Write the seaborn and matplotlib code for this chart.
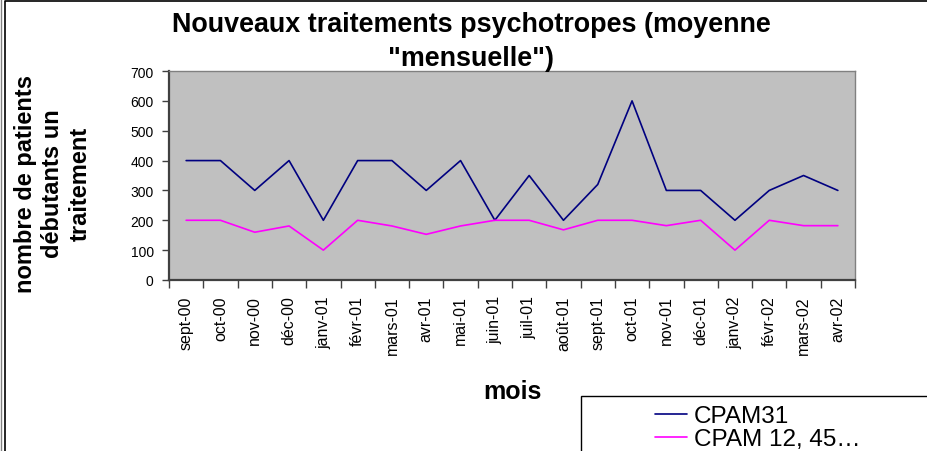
import matplotlib
matplotlib.use("Agg")
import matplotlib.pyplot as plt
from matplotlib.lines import Line2D
from matplotlib.patches import Rectangle
import pandas as pd
import seaborn as sns

MONTHS = [
    "sept-00", "oct-00", "nov-00", "déc-00", "janv-01", "févr-01", "mars-01",
    "avr-01", "mai-01", "juin-01", "juil-01", "août-01", "sept-01", "oct-01",
    "nov-01", "déc-01", "janv-02", "févr-02", "mars-02", "avr-02",
]
CPAM31 = [400, 400, 300, 400, 200, 400, 400, 300, 400, 200,
          350, 200, 320, 600, 300, 300, 200, 300, 350, 300]
CPAM_AUTRES = [200, 200, 160, 181, 100, 200, 181, 153, 181, 200,
               200, 168, 200, 200, 182, 200, 100, 200, 182, 182]
SERIES = ["CPAM31", "CPAM 12, 45…"]
COLORS = {"CPAM31": "#000080", "CPAM 12, 45…": "#FF00FF"}
YTICKS = [0, 100, 200, 300, 400, 500, 600, 700]

W, H = 927, 452


def fx(px):
    return px / W


def fy(py):
    return 1 - py / H


df = pd.concat([
    pd.DataFrame({"pos": range(len(MONTHS)), "valeur": CPAM31, "serie": SERIES[0]}),
    pd.DataFrame({"pos": range(len(MONTHS)), "valeur": CPAM_AUTRES, "serie": SERIES[1]}),
])

sns.set_style("white")
plt.rcParams["font.family"] = ["Liberation Sans", "DejaVu Sans"]
plt.rcParams["text.color"] = "black"
plt.rcParams["axes.labelcolor"] = "black"
plt.rcParams["xtick.labelcolor"] = "black"
plt.rcParams["ytick.labelcolor"] = "black"

fig = plt.figure(figsize=(W / 100, H / 100), dpi=100)
ax = fig.add_axes([fx(169), fy(281), fx(855) - fx(169), fy(72) - fy(281)])
ax.set_facecolor("#C0C0C0")

sns.lineplot(data=df, x="pos", y="valeur", hue="serie", palette=COLORS,
             linewidth=1.2, ax=ax, legend=True)

ax.set_xlim(-0.5, len(MONTHS) - 0.5)
ax.set_ylim(0, 700)
ax.set_yticks(YTICKS)
ax.set_yticklabels([str(v) for v in YTICKS], fontsize=10)
ax.set_xticks(range(len(MONTHS)))
ax.set_xticklabels(MONTHS, rotation=90, fontsize=11.5, va="top", ha="center")
ax.set_xticks([i - 0.5 for i in range(len(MONTHS) + 1)], minor=True)
ax.tick_params(axis="x", which="major", length=0, pad=11, labelcolor="black")
ax.tick_params(axis="x", which="minor", length=6, width=1, color="#404040", direction="out", bottom=True)
ax.tick_params(axis="y", length=5, width=1, color="#404040", direction="out", pad=6, left=True,
               labelcolor="black")
ax.set_xlabel("")
ax.set_ylabel("")

for side in ["left", "bottom"]:
    ax.spines[side].set_color("#404040")
    ax.spines[side].set_linewidth(1.6)
for side in ["top", "right"]:
    ax.spines[side].set_color("#808080")
    ax.spines[side].set_linewidth(1.0)

handles, labels = ax.get_legend_handles_labels()
ax.get_legend().remove()
leg = fig.legend(handles, labels, loc="upper left", bbox_to_anchor=(fx(655), fy(406)),
                 frameon=False, fontsize=17.5, handlelength=1.3, handletextpad=0.3,
                 labelspacing=0.05, borderpad=0, borderaxespad=0)
for t in leg.get_texts():
    t.set_color("black")
fig.patches.append(Rectangle((fx(581), fy(470)), fx(400), fy(397) - fy(470),
                             transform=fig.transFigure, fill=False,
                             edgecolor="black", linewidth=1))

fig.text(fx(471), fy(42), "Nouveaux traitements psychotropes (moyenne\n\"mensuelle\")",
         ha="center", va="center", fontsize=19.4, fontweight="bold", linespacing=1.45,
         color="black")
fig.text(fx(53), fy(184), "nombre de patients\ndébutants un\ntraitement",
         ha="center", va="center", rotation=90, fontsize=17, fontweight="bold",
         linespacing=1.25, color="black")
fig.text(fx(512), fy(392), "mois", ha="center", va="center", fontsize=18, fontweight="bold",
         color="black")

# chart frame: only top and left edges are visible in the crop
fig.lines.append(Line2D([fx(5), fx(5), 1.0], [0.0, fy(1.5), fy(1.5)],
                        transform=fig.transFigure, color="black", linewidth=1.2))
fig.lines.append(Line2D([fx(1), fx(1)], [0.0, 1.0],
                        transform=fig.transFigure, color="#808080", linewidth=1.0))

fig.savefig("out.png", dpi=100)
